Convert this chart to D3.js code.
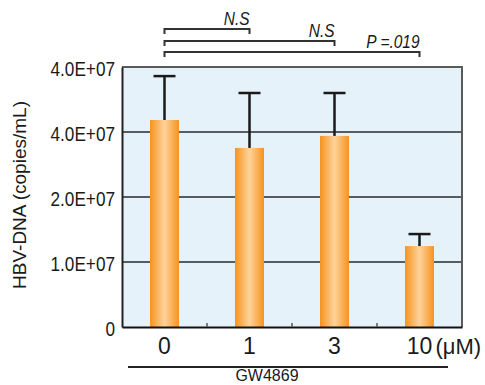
<!DOCTYPE html>
<html>
<head>
<meta charset="utf-8">
<script src="https://cdn.jsdelivr.net/npm/d3@7"></script>
<style>
  html, body { margin: 0; padding: 0; background: #fff; }
  svg { display: block; font-family: "Liberation Sans", Arial, sans-serif; }
</style>
</head>
<body>
<svg id="chart" width="485" height="385"></svg>
<script>
// ---- data ----
const categories = ["0", "1", "3", "10"];
const means = [31850000, 27550000, 29400000, 12450000];
const errTops = [38600000, 36000000, 36000000, 14300000];
const yTickValues = [0, 10000000, 20000000, 30000000, 40000000];
const yTickLabels = ["0", "1.0E+07", "2.0E+07", "4.0E+07", "4.0E+07"];
const unitLabel = "(μM)";
const groupLabel = "GW4869";
const yTitle = "HBV-DNA (copies/mL)";
const comparisons = [
  { from: "0", to: "1", label: "N.S" },
  { from: "0", to: "3", label: "N.S" },
  { from: "0", to: "10", label: "P =.019" }
];

// ---- layout ----
const plot = { left: 122, right: 462, top: 67, bottom: 327 };
const svg = d3.select("#chart");

const p = 56 / 85;
const x = d3.scaleBand().domain(categories)
  .range([plot.left, plot.right]).paddingInner(p).paddingOuter(p / 2);
const y = d3.scaleLinear().domain([0, 40000000]).range([plot.bottom, plot.top]);

// gradient
const defs = svg.append("defs");
const grad = defs.append("linearGradient").attr("id", "barGrad")
  .attr("x1", "0%").attr("x2", "100%").attr("y1", "0%").attr("y2", "0%");
grad.append("stop").attr("offset", "0%").attr("stop-color", "#f7931e");
grad.append("stop").attr("offset", "50%").attr("stop-color", "#fdd39b");
grad.append("stop").attr("offset", "100%").attr("stop-color", "#f7931e");

// background
svg.append("rect").attr("x", plot.left).attr("y", plot.top)
  .attr("width", plot.right - plot.left).attr("height", plot.bottom - plot.top)
  .attr("fill", "#e6f2fa");

// gridlines
svg.append("g").selectAll("line")
  .data(yTickValues.filter(v => v > 0 && v < 40000000))
  .join("line")
  .attr("x1", plot.left).attr("x2", plot.right)
  .attr("y1", d => y(d)).attr("y2", d => y(d))
  .attr("stroke", "#2a2a2a").attr("stroke-width", 1.6);

// plot frame (top, right)
svg.append("path")
  .attr("d", `M${plot.left},${plot.top}H${plot.right}V${plot.bottom}`)
  .attr("fill", "none").attr("stroke", "#5a5a5a").attr("stroke-width", 2);

// bars
svg.append("g").selectAll("rect")
  .data(categories)
  .join("rect")
  .attr("x", d => x(d))
  .attr("width", x.bandwidth())
  .attr("y", (d, i) => y(means[i]))
  .attr("height", (d, i) => y(0) - y(means[i]))
  .attr("fill", "url(#barGrad)");

// error bars
const eg = svg.append("g").attr("stroke", "#1a1a1a").attr("stroke-width", 2.5);
categories.forEach((c, i) => {
  const cx = x(c) + x.bandwidth() / 2;
  eg.append("line").attr("x1", cx).attr("x2", cx)
    .attr("y1", y(means[i])).attr("y2", y(errTops[i]));
  eg.append("line").attr("x1", cx - 11).attr("x2", cx + 11)
    .attr("y1", y(errTops[i])).attr("y2", y(errTops[i]));
});

// left axis
const yAxis = d3.axisLeft(y).tickValues(yTickValues)
  .tickFormat((d, i) => yTickLabels[i]).tickSize(0).tickPadding(7);
const ya = svg.append("g").attr("transform", `translate(${plot.left},0)`).call(yAxis);
ya.select(".domain").attr("stroke", "#222").attr("stroke-width", 2);
ya.selectAll("text")
  .attr("font-size", 20).attr("fill", "#1a1a1a")
  .attr("font-family", "Liberation Sans, Arial, sans-serif")
  .attr("dy", "0.4em")
  .each(function () {
    const t = d3.select(this);
    const xx = +t.attr("x");
    t.attr("transform", `translate(${xx},0) scale(0.86,1)`).attr("x", 0);
  });

// bottom axis
const xAxis = d3.axisBottom(x).tickSize(0).tickPadding(10);
const xa = svg.append("g").attr("transform", `translate(0,${plot.bottom})`).call(xAxis);
xa.select(".domain").attr("stroke", "#111").attr("stroke-width", 2);
xa.selectAll("text")
  .attr("font-size", 23).attr("fill", "#1a1a1a")
  .attr("font-family", "Liberation Sans, Arial, sans-serif")
  .attr("dy", "0.72em");

// minor ticks between bars
svg.append("g").selectAll("line")
  .data(categories.slice(1))
  .join("line")
  .attr("x1", d => x(d) - x.step() * p / 2).attr("x2", d => x(d) - x.step() * p / 2)
  .attr("y1", plot.bottom).attr("y2", plot.bottom - 4)
  .attr("stroke", "#555").attr("stroke-width", 1.5);

// unit label
svg.append("text")
  .attr("x", x("10") + x.bandwidth() / 2 + 16).attr("y", plot.bottom + 27)
  .attr("font-size", 22).attr("fill", "#1a1a1a")
  .text(unitLabel);

// group line and label
svg.append("line").attr("x1", 128).attr("x2", 448).attr("y1", 367).attr("y2", 367)
  .attr("stroke", "#222").attr("stroke-width", 1.8);
svg.append("text").attr("x", 267).attr("y", 381).attr("text-anchor", "middle")
  .attr("font-size", 16).attr("fill", "#1a1a1a").text(groupLabel);

// y title
svg.append("text")
  .attr("transform", "translate(26,195) rotate(-90)")
  .attr("text-anchor", "middle").attr("font-size", 19).attr("fill", "#1a1a1a")
  .text(yTitle);

// significance brackets
const bracketY = [29, 41, 52];
const bg = svg.append("g");
comparisons.forEach((c, i) => {
  const x1 = x(c.from) + x.bandwidth() / 2;
  const x2 = x(c.to) + x.bandwidth() / 2;
  const by = bracketY[i];
  bg.append("path")
    .attr("d", `M${x1},${by + 5}V${by}H${x2}V${by + 5}`)
    .attr("fill", "none").attr("stroke", "#333").attr("stroke-width", 2);
  bg.append("text")
    .attr("transform", `translate(${x2},${by - 4}) scale(0.86,1)`)
    .attr("text-anchor", "end").attr("font-size", 18).attr("font-style", "italic")
    .attr("fill", "#1a1a1a").text(c.label);
});
</script>
</body>
</html>
